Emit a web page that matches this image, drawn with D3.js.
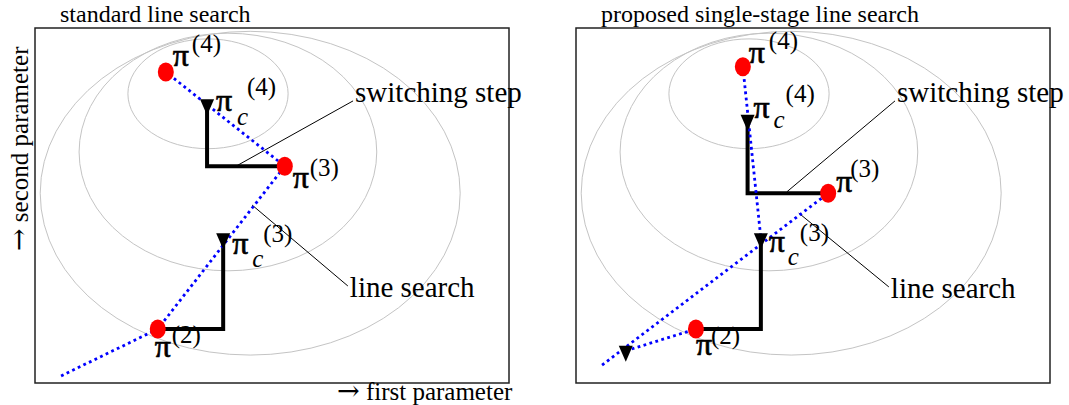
<!DOCTYPE html>
<html>
<head>
<meta charset="utf-8">
<script src="https://cdn.jsdelivr.net/npm/d3@7"></script>
<style>
  body { margin: 0; background: #fff; }
</style>
</head>
<body>
<div class="svg-container"></div>
<script>
// overall size
const width = 1069, height = 405;

// panel titles
const panelTitles = ['standard line search', 'proposed single-stage line search'];

// contour ellipses of the cost surface [cx, cy, rx, ry] in parameter units
const contours = [
  [36.5, 61.1, 16.9, 11.6],
  [40.7, 48.8, 31.4, 25.1],
  [45.4, 40.1, 44.3, 34.2]
];

// standard line search: iterates pi(2..4), corrected points pi_c(3..4)
const stdPi = [[25.9, 11.4], [52.7, 45.8], [27.6, 65.7]];
const stdPiC = [[39.7, 30.6], [36.3, 58.9]];
const stdSearch = [[[5.5, 1.5], [25.9, 11.4], [52.7, 45.8], [27.6, 65.7]]];
const stdSwitch = [[42.4, 45.8], [67.1, 59.6]];
const stdLine = [[45.8, 37.6], [66.0, 20.5]];

// proposed single-stage search: first corrected point has no label
const propPi = [[25.3, 11.4], [53.2, 40.1], [35.2, 66.8]];
const propPiC = [[10.5, 6.8], [39.0, 30.6], [36.2, 55.6]];
const propSearch = [
  [[5.5, 3.8], [53.2, 40.1]],
  [[10.5, 6.8], [25.3, 11.4]],
  [[35.2, 66.8], [39.0, 30.6]]
];
const propSwitch = [[44.5, 40.4], [67.3, 59.6]];
const propLine = [[47.0, 35.9], [66.0, 20.3]];

// labels: superscript index, which point, and pixel offsets of pi / c / (k)
const stdLabels = [
  { sup: '(2)', pt: stdPi[0], pi: [-3, 28], s: [14, 14] },
  { sup: '(3)', pt: stdPi[1], pi: [8, 22], s: [25, 10] },
  { sup: '(4)', pt: stdPi[2], pi: [7, -6], s: [26, -20] },
  { sup: '(3)', pt: stdPiC[0], pi: [9, 16], c: [29, 29], s: [40, 4] },
  { sup: '(4)', pt: stdPiC[1], pi: [9, 7], c: [30, 21], s: [40, -9] }
];
const propLabels = [
  { sup: '(2)', pt: propPi[0], pi: [0, 26], s: [15, 15] },
  { sup: '(3)', pt: propPi[1], pi: [8, -1], s: [22, -16] },
  { sup: '(4)', pt: propPi[2], pi: [6, -4], s: [26, -18] },
  { sup: '(3)', pt: propPiC[1], pi: [8, 14], c: [27, 27], s: [39, 3] },
  { sup: '(4)', pt: propPiC[2], pi: [6, -2], c: [26, 8], s: [38, -18] }
];

const panels = [
  { title: panelTitles[0], left: 35, pi: stdPi, piC: stdPiC, search: stdSearch,
    steps: [[stdPi[0], stdPiC[0]], [stdPi[1], stdPiC[1]]],
    notes: [['switching step', stdSwitch], ['line search', stdLine]], labels: stdLabels },
  { title: panelTitles[1], left: 576, pi: propPi, piC: propPiC, search: propSearch,
    steps: [[propPi[0], propPiC[1]], [propPi[1], propPiC[2]]],
    notes: [['switching step', propSwitch], ['line search', propLine]], labels: propLabels }
];

// frame of each panel
const frameW = 474, frameTop = 28, frameBottom = 383;
const serif = 'Liberation Serif, DejaVu Serif, serif';
const symbol = 'DejaVu Serif, serif';

const svg = d3.select('.svg-container')
  .append('svg')
  .attr('width', width)
  .attr('height', height)
  .attr('font-family', serif);

panels.forEach(p => {
  const x = d3.scaleLinear().domain([0, 100]).range([p.left, p.left + frameW]);
  const y = d3.scaleLinear().domain([0, 75]).range([frameBottom, frameTop]);
  const g = svg.append('g');

  // title above frame
  g.append('text')
    .attr('x', p.left + 25)
    .attr('y', 22)
    .attr('font-size', 24)
    .text(p.title);

  // contour ellipses
  g.selectAll('.contour')
    .data(contours)
    .join('ellipse')
    .attr('class', 'contour')
    .attr('cx', d => x(d[0]))
    .attr('cy', d => y(d[1]))
    .attr('rx', d => x(d[2]) - x(0))
    .attr('ry', d => y(0) - y(d[3]))
    .attr('fill', 'none')
    .attr('stroke', '#c4c4c4')
    .attr('stroke-width', 1);

  // frame
  g.append('rect')
    .attr('x', x(0))
    .attr('y', y(75))
    .attr('width', x(100) - x(0))
    .attr('height', y(0) - y(75))
    .attr('fill', 'none')
    .attr('stroke', '#222')
    .attr('stroke-width', 1.5);

  // leader lines of annotations
  g.selectAll('.leader')
    .data(p.notes)
    .join('line')
    .attr('class', 'leader')
    .attr('x1', d => x(d[1][0][0]))
    .attr('y1', d => y(d[1][0][1]))
    .attr('x2', d => x(d[1][1][0]))
    .attr('y2', d => y(d[1][1][1]))
    .attr('stroke', '#000')
    .attr('stroke-width', 1);

  g.selectAll('.note')
    .data(p.notes)
    .join('text')
    .attr('class', 'note')
    .attr('x', d => x(d[1][1][0]) + 2)
    .attr('y', d => y(d[1][1][1]) + (d[0] === 'line search' ? 11 : 1))
    .attr('font-size', 29)
    .text(d => d[0]);

  // coordinate-wise steps (thick black)
  const step = d3.line();
  g.selectAll('.step')
    .data(p.steps)
    .join('path')
    .attr('class', 'step')
    .attr('d', d => step([
      [x(d[0][0]), y(d[0][1])],
      [x(d[1][0]), y(d[0][1])],
      [x(d[1][0]), y(d[1][1])]
    ]))
    .attr('fill', 'none')
    .attr('stroke', '#000')
    .attr('stroke-width', 4);

  // line search directions (blue dotted)
  const path = d3.line().x(d => x(d[0])).y(d => y(d[1]));
  g.selectAll('.search')
    .data(p.search)
    .join('path')
    .attr('class', 'search')
    .attr('d', path)
    .attr('fill', 'none')
    .attr('stroke', '#0000ff')
    .attr('stroke-width', 2.8)
    .attr('stroke-dasharray', '2.8,3.4');

  // corrected points (down triangles)
  g.selectAll('.tri')
    .data(p.piC)
    .join('path')
    .attr('class', 'tri')
    .attr('d', d => {
      const cx = x(d[0]), cy = y(d[1]);
      return `M${cx - 7},${cy - 5}L${cx + 7},${cy - 5}L${cx},${cy + 11}Z`;
    })
    .attr('fill', '#000');

  // iterates (red dots)
  g.selectAll('.dot')
    .data(p.pi)
    .join('ellipse')
    .attr('class', 'dot')
    .attr('cx', d => x(d[0]))
    .attr('cy', d => y(d[1]))
    .attr('rx', 8)
    .attr('ry', 9.5)
    .attr('fill', '#ff0000');

  // labels pi, c and (k)
  p.labels.forEach(l => {
    const px = x(l.pt[0]), py = y(l.pt[1]);
    g.append('text')
      .attr('x', px + l.pi[0]).attr('y', py + l.pi[1])
      .attr('font-size', 32)
      .attr('stroke', '#000')
      .attr('stroke-width', 0.7)
      .text('\u03c0');
    if (l.c) {
      g.append('text')
        .attr('x', px + l.c[0]).attr('y', py + l.c[1])
        .attr('font-size', 25)
        .attr('font-style', 'italic')
        .text('c');
    }
    g.append('text')
      .attr('x', px + l.s[0]).attr('y', py + l.s[1])
      .attr('font-size', 25)
      .text(l.sup);
  });
});

// axis labels, arrow drawn wider like the original
const xLab = svg.append('text')
  .attr('x', 337)
  .attr('y', 400)
  .attr('font-size', 25);
xLab.append('tspan').attr('font-family', symbol).attr('font-size', 27).text('\u2192');
xLab.append('tspan').text(' first parameter');

const yLab = svg.append('text')
  .attr('transform', 'translate(28,251) rotate(-90)')
  .attr('font-size', 25);
yLab.append('tspan').attr('font-family', symbol).attr('font-size', 27).text('\u2192');
yLab.append('tspan').text(' second parameter');
</script>
</body>
</html>
